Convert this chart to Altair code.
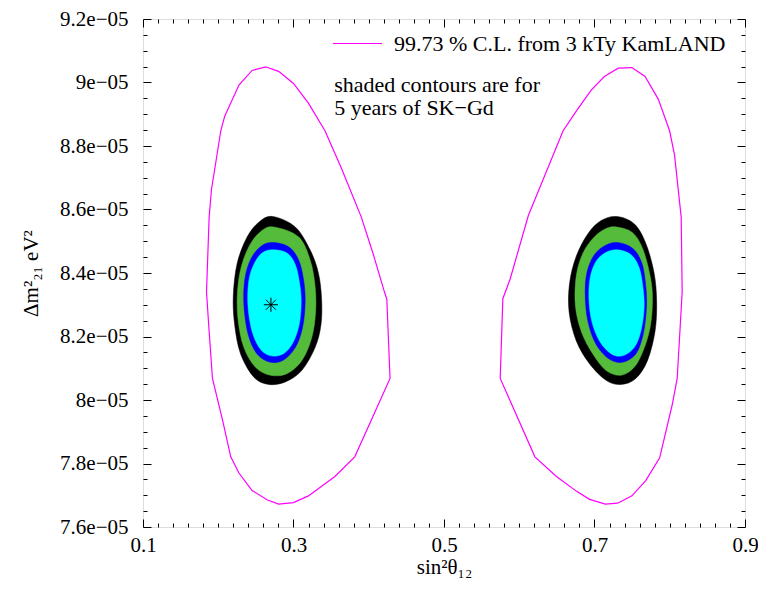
import altair as alt
import pandas as pd

# ---------------- data (sin^2 theta12 ; dm^2_21 in units of 1e-5 eV^2) ----------------
# KamLAND 99.73 % C.L. contour, left octant (clockwise from top)
kam_left_s2 = [0.2635, 0.2802, 0.3000, 0.3198, 0.3418, 0.3637, 0.3901, 0.4055, 0.4209, 0.4240,
               0.4283, 0.3814, 0.3550, 0.3198, 0.3000, 0.2802, 0.2648, 0.2450, 0.2275, 0.2166,
               0.2055, 0.1923, 0.1879, 0.1844, 0.1879, 0.1910, 0.2034, 0.2086, 0.2275, 0.2450]
kam_left_dm = [9.049, 9.035, 8.997, 8.935, 8.848, 8.730, 8.576, 8.463, 8.340, 8.318,
               8.068, 7.821, 7.759, 7.698, 7.677, 7.672, 7.686, 7.715, 7.770, 7.821,
               7.939, 8.068, 8.216, 8.340, 8.576, 8.663, 8.848, 8.894, 8.992, 9.038]
# KamLAND 99.73 % C.L. contour, right octant
kam_right_s2 = [0.7316, 0.7497, 0.7672, 0.7849, 0.7998, 0.8064, 0.8152, 0.8165, 0.8099, 0.8033,
                0.7866, 0.7681, 0.7497, 0.7308, 0.7144, 0.6934, 0.6758, 0.6494, 0.6208, 0.5747,
                0.5782, 0.5879, 0.6121, 0.6583, 0.6758, 0.6956, 0.7131]
kam_right_dm = [9.045, 9.047, 9.019, 8.947, 8.848, 8.771, 8.576, 8.340, 8.068, 7.985,
                7.818, 7.746, 7.698, 7.675, 7.672, 7.687, 7.713, 7.759, 7.821, 8.068,
                8.319, 8.381, 8.581, 8.848, 8.910, 8.976, 9.019]

# SK-Gd shaded contours (outer -> inner: black, green, blue, cyan)
black_left_s2 = [0.2723, 0.3023, 0.3220, 0.3330, 0.3373, 0.3365, 0.3286, 0.3110, 0.2891, 0.2671,
                 0.2473, 0.2297, 0.2218, 0.2200, 0.2253, 0.2385, 0.2539]
black_left_dm = [8.578, 8.545, 8.473, 8.401, 8.319, 8.237, 8.165, 8.093, 8.057, 8.049,
                 8.072, 8.145, 8.237, 8.329, 8.432, 8.514, 8.560]
black_right_s2 = [0.7295, 0.7527, 0.7681, 0.7791, 0.7826, 0.7804, 0.7704, 0.7549, 0.7352, 0.7154,
                  0.6934, 0.6758, 0.6662, 0.6670, 0.6758, 0.6913, 0.7088]
black_right_dm = [8.578, 8.555, 8.494, 8.401, 8.309, 8.216, 8.124, 8.068, 8.049, 8.062,
                  8.114, 8.186, 8.278, 8.370, 8.453, 8.524, 8.565]

green_left_s2 = [0.2737, 0.3066, 0.3220, 0.3286, 0.3294, 0.3242, 0.3110, 0.2912, 0.2693, 0.2495,
                 0.2341, 0.2266, 0.2253, 0.2297, 0.2407, 0.2561]
green_left_dm = [8.545, 8.514, 8.442, 8.360, 8.278, 8.196, 8.124, 8.083, 8.078, 8.103,
                 8.165, 8.247, 8.329, 8.411, 8.483, 8.530]
green_right_s2 = [0.7295, 0.7506, 0.7646, 0.7747, 0.7770, 0.7738, 0.7646, 0.7527, 0.7352, 0.7154,
                  0.6978, 0.6824, 0.6745, 0.6758, 0.6847, 0.7000, 0.7154]
green_right_dm = [8.545, 8.527, 8.473, 8.381, 8.309, 8.227, 8.155, 8.103, 8.078, 8.093,
                  8.145, 8.216, 8.299, 8.391, 8.463, 8.514, 8.540]

blue_left_s2 = [0.2714, 0.2934, 0.3066, 0.3132, 0.3155, 0.3119, 0.3023, 0.2868, 0.2693, 0.2516,
                0.2398, 0.2341, 0.2354, 0.2429, 0.2561]
blue_left_dm = [8.496, 8.483, 8.442, 8.381, 8.309, 8.227, 8.165, 8.126, 8.119, 8.145,
                8.206, 8.299, 8.381, 8.442, 8.483]
blue_right_s2 = [0.7308, 0.7506, 0.7628, 0.7681, 0.7690, 0.7646, 0.7549, 0.7374, 0.7197, 0.7022,
                 0.6913, 0.6877, 0.6899, 0.7000, 0.7154]
blue_right_dm = [8.496, 8.478, 8.432, 8.360, 8.288, 8.206, 8.145, 8.119, 8.129, 8.175,
                 8.247, 8.329, 8.401, 8.458, 8.488]

cyan_left_s2 = [0.2723, 0.2912, 0.3023, 0.3079, 0.3102, 0.3075, 0.2991, 0.2868, 0.2706, 0.2561,
                0.2450, 0.2394, 0.2407, 0.2473, 0.2582]
cyan_left_dm = [8.473, 8.463, 8.427, 8.370, 8.309, 8.237, 8.180, 8.146, 8.139, 8.160,
                8.216, 8.299, 8.376, 8.427, 8.463]
cyan_right_s2 = [0.7308, 0.7483, 0.7593, 0.7646, 0.7659, 0.7615, 0.7527, 0.7374, 0.7220, 0.7066,
                 0.6965, 0.6926, 0.6943, 0.7022, 0.7154]
cyan_right_dm = [8.473, 8.458, 8.417, 8.350, 8.288, 8.216, 8.165, 8.139, 8.146, 8.186,
                 8.247, 8.319, 8.386, 8.437, 8.465]

best_fit_s2 = [0.27]
best_fit_dm = [8.30]

kam_label = "99.73 % C.L. from 3 kTy KamLAND"
note_text = "shaded contours are for\n5 years of SK\u2212Gd"
note_s2 = [0.354]
note_dm = [8.971]

x_major = [0.1, 0.3, 0.5, 0.7, 0.9]
y_major = [7.6e-05, 7.8e-05, 8.0e-05, 8.2e-05, 8.4e-05, 8.6e-05, 8.8e-05, 9.0e-05, 9.2e-05]
x_minor = [round(0.1 + 0.02 * i, 4) for i in range(41) if i % 10 != 0]
y_minor = [round(7.6 + 0.05 * i, 4) * 1e-5 for i in range(33) if i % 4 != 0]

FONT = "Liberation Serif"


def poly_df(ls2, ldm, rs2, rdm):
    rows = []
    for side, xs, ys in (("left", ls2, ldm), ("right", rs2, rdm)):
        for k, (a, b) in enumerate(zip(xs, ys)):
            rows.append({"s2": a, "dm": b * 1e-5, "side": side, "k": k, "lab": kam_label})
    return pd.DataFrame(rows)


kam_df = poly_df(kam_left_s2, kam_left_dm, kam_right_s2, kam_right_dm)
black_df = poly_df(black_left_s2, black_left_dm, black_right_s2, black_right_dm)
green_df = poly_df(green_left_s2, green_left_dm, green_right_s2, green_right_dm)
blue_df = poly_df(blue_left_s2, blue_left_dm, blue_right_s2, blue_right_dm)
cyan_df = poly_df(cyan_left_s2, cyan_left_dm, cyan_right_s2, cyan_right_dm)
star_df = pd.DataFrame({"s2": best_fit_s2, "dm": [v * 1e-5 for v in best_fit_dm]})
note_df = pd.DataFrame({"s2": note_s2, "dm": [v * 1e-5 for v in note_dm], "t": [note_text]})

XS = alt.Scale(domain=[0.1, 0.9], nice=False, zero=False)
YS = alt.Scale(domain=[7.6e-05, 9.2e-05], nice=False, zero=False)


def tick_axis(orient, values, size):
    return alt.Axis(orient=orient, values=values, labels=False, domain=False, grid=False,
                    ticks=True, tickSize=size, offset=-size, tickColor="black",
                    tickWidth=1, title=None)


ax_x_main = alt.Axis(orient="bottom", values=x_major, ticks=False, domain=False, grid=False,
                     format=".1f", labelFont=FONT, labelFontSize=21, labelColor="black",
                     labelPadding=7, labelFlush=False, labelOverlap=False,
                     title="sin\u00b2\u03b8\u2081\u2082", titleFont=FONT, titleFontSize=21,
                     titleFontWeight="normal", titleColor="black", titlePadding=1)
ax_y_main = alt.Axis(orient="left", values=y_major, ticks=False, domain=False, grid=False,
                     labelExpr="format(datum.value * 100000, '.1~f') + 'e\u221205'",
                     labelFont=FONT, labelFontSize=21, labelColor="black",
                     labelPadding=15, labelFlush=False, labelOverlap=False,
                     title="\u0394m\u00b2\u2082\u2081 eV\u00b2", titleFont=FONT, titleFontSize=21,
                     titleFontWeight="normal", titleColor="black", titlePadding=18)


def xy(xaxis, yaxis):
    return dict(x=alt.X("s2:Q", scale=XS, axis=xaxis),
                y=alt.Y("dm:Q", scale=YS, axis=yaxis))


kam = alt.Chart(kam_df).mark_line(interpolate="linear-closed", strokeWidth=1.2).encode(
    order=alt.Order("k:Q"), detail="side:N",
    color=alt.Color("lab:N", scale=alt.Scale(domain=[kam_label], range=["#ff00ff"]),
                    legend=alt.Legend(orient="none", legendX=189, legendY=-1, title=None,
                                      symbolType="stroke", symbolSize=2401,
                                      symbolStrokeWidth=1.2, labelFont=FONT,
                                      labelFontSize=22, labelColor="black",
                                      labelOffset=11, padding=0, labelLimit=500)),
    **xy(ax_x_main, ax_y_main))


def shaded(df, col, xaxis, yaxis):
    return alt.Chart(df).mark_line(interpolate="cardinal-closed", fill=col, stroke=col,
                                   strokeWidth=0.5).encode(
        order=alt.Order("k:Q"), detail="side:N", **xy(xaxis, yaxis))


black = shaded(black_df, "black", tick_axis("bottom", x_major, 8), tick_axis("left", y_major, 8))
green = shaded(green_df, "#55bb3a", tick_axis("bottom", x_minor, 4), tick_axis("left", y_minor, 4))
blue = shaded(blue_df, "#0000ff", tick_axis("top", x_major, 8), tick_axis("right", y_major, 8))
cyan = shaded(cyan_df, "#00ffff", tick_axis("top", x_minor, 4), tick_axis("right", y_minor, 4))

star = alt.Chart(star_df).mark_point(
    shape="M-1,0L1,0M0,-1L0,1M-0.7,-0.7L0.7,0.7M-0.7,0.7L0.7,-0.7",
    filled=False, stroke="black", strokeWidth=1, size=200, opacity=1).encode(
    **xy(None, None))

note = alt.Chart(note_df).mark_text(align="left", baseline="alphabetic", font=FONT,
                                    fontSize=22, lineHeight=23, lineBreak="\n",
                                    color="black").encode(
    text="t:N", **xy(None, None))

chart = alt.layer(kam, black, green, blue, cyan, star, note).resolve_axis(
    x="independent", y="independent"
).properties(
    width=602, height=508,
    autosize=alt.AutoSizeParams(type="none"),
    padding={"left": 135, "top": 11, "right": 13, "bottom": 61},
).configure_view(stroke="black", strokeWidth=1).configure(background="white")

chart.save("out.html", embed_options={"renderer": "svg", "actions": False})
